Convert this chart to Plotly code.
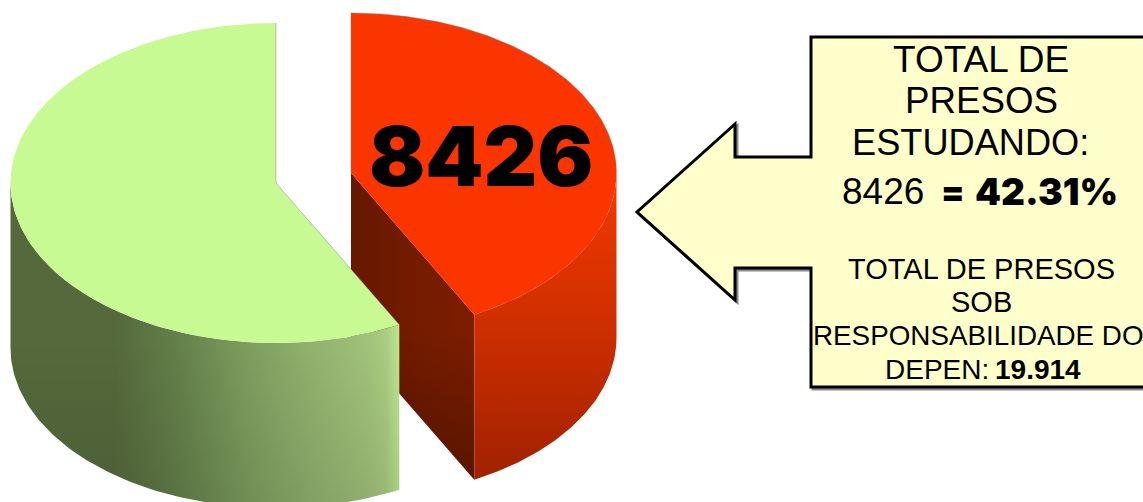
import numpy as np
import plotly.graph_objects as go

categories = ["Estudando", "Não estudando"]
values = [8426, 11488]
total = 19914
pct_label = "42.31%"

# Pie geometry (pixel frame of the page)
RX, RY, DEPTH = 265.5, 160, 165
CENTERS = [(351, 173), (276, 183)]
FONT = "Liberation Sans"
HEAVY = "Inter"
EDGE = "rgba(120,120,120,0.55)"


def ell(c, deg, dy=0):
    t = np.radians(deg)
    return c[0] + RX * np.sin(t), c[1] - RY * np.cos(t) + dy


share_angle = 360 * values[0] / sum(values)
fig = go.Figure()


def poly(x, y, color=None, grad=None):
    kw = dict(x=list(x), y=list(y), mode="lines", fill="toself", hoverinfo="skip", showlegend=False)
    if grad:
        kw["fillgradient"] = grad
        kw["fillcolor"] = "rgba(0,0,0,0)"
    else:
        kw["fillcolor"] = color
    kw["line"] = dict(width=0, color="rgba(0,0,0,0)")
    fig.add_trace(go.Scatter(**kw))


def edge(x, y):
    fig.add_trace(go.Scatter(x=list(x), y=list(y), mode="lines", hoverinfo="skip", showlegend=False,
                             line=dict(color=EDGE, width=0.8)))


def wall(c, a0, a1):
    ts = np.linspace(a0, a1, 120)
    xt, yt = ell(c, ts)
    xb, yb = ell(c, ts[::-1], DEPTH)
    return np.r_[xt, xb, xt[0]], np.r_[yt, yb, yt[0]]


def top(c, a0, a1):
    ts = np.linspace(a0, a1, 240)
    x, y = ell(c, ts)
    return np.r_[c[0], x, c[0]], np.r_[c[1], y, c[1]]


# ---- red slice
c = CENTERS[0]
ex, ey = ell(c, share_angle)
ix = [c[0], ex, ex, c[0], c[0]]
iy = [c[1], ey, ey + DEPTH, c[1] + DEPTH, c[1]]
poly(ix, iy, grad=dict(type="horizontal", start=c[0], stop=ex,
                       colorscale=[[0, "#651800"], [0.6, "#761c00"], [1, "#7c1d00"]]))
poly(ix, iy, grad=dict(type="vertical", start=330, stop=480,
                       colorscale=[[0, "rgba(0,0,0,0)"], [1, "rgba(0,0,0,0.28)"]]))
x, y = wall(c, 90, share_angle)
poly(x, y, grad=dict(type="vertical", start=190, stop=478,
                     colorscale=[[0, "#f03800"], [0.45, "#cf2f00"], [1, "#a02200"]]))
x, y = top(c, 0, share_angle)
poly(x, y, color="#fb3500")
tx, ty = ell(c, np.linspace(0, 90, 120))
edge(np.r_[c[0], tx], np.r_[c[1], ty])

# ---- green slice
c = CENTERS[1]
x, y = wall(c, share_angle, 270)
poly(x, y, grad=dict(type="horizontal", start=11, stop=ell(c, share_angle)[0],
                     colorscale=[[0, "#55693c"], [0.27, "#55693c"], [0.42, "#637e49"], [0.6, "#7c9c5d"],
                                 [0.76, "#90b06d"], [0.92, "#a0c27a"], [0.965, "#a8cc80"], [1, "#bce590"]]))
poly(x, y, grad=dict(type="vertical", start=340, stop=500,
                     colorscale=[[0, "rgba(0,0,0,0)"], [1, "rgba(0,0,0,0.10)"]]))
x, y = top(c, share_angle, 360)
poly(x, y, color="#c8fa93")
gx, gy = ell(c, share_angle)
edge([gx, c[0], c[0]], [gy, c[1], c[1] - RY])

# ---- callout
arrow = "M811,37 L1150,37 L1150,387 L811,387 L811,268 L735,268 L735,300 L637,212 L735,124 L735,157 L811,157 Z"
arrow_shadow = "M813,39 L1150,39 L1150,389 L813,389 L813,270 L737,270 L737,302 L639,214 L737,126 L737,159 L813,159 Z"
shapes = [
    dict(type="path", path=arrow_shadow, line=dict(color="#8a8a8a", width=3), fillcolor="#8a8a8a", layer="below"),
    dict(type="path", path=arrow, line=dict(color="#000000", width=3), fillcolor="#ffffcc", layer="below"),
]


def text(s, px, py, size, family=FONT, weight=None):
    font = dict(family=family, size=size, color="#000000")
    if weight:
        font["weight"] = weight
    return dict(text=s, x=px, y=py, xref="x", yref="y", showarrow=False, xanchor="center",
                yanchor="middle", font=font, align="center")


annots = [
    text("TOTAL DE", 981, 59, 37),
    text("PRESOS", 981, 100, 36.7),
    text("ESTUDANDO:", 970, 142, 36.2),
    text(f"{values[0]}", 883, 191, 37),
    text("=", 953, 191, 34, HEAVY, 900),
    text(pct_label, 1046, 191, 37, HEAVY, 900),
    text("TOTAL DE PRESOS", 981, 269, 29),
    text("SOB", 981, 302, 29),
    text("RESPONSABILIDADE DO", 978, 335, 27.8),
    text("DEPEN:", 937, 369, 28),
    text(f"{total/1000:.3f}", 1038, 369, 28, FONT, "bold"),
    text(f"{values[0]}", 481, 156, 83, HEAVY, 900),
]

fig.update_layout(
    width=1143, height=502, margin=dict(l=0, r=0, t=0, b=0),
    paper_bgcolor="white", plot_bgcolor="white", showlegend=False,
    xaxis=dict(range=[0, 1143], visible=False, fixedrange=True),
    yaxis=dict(range=[502, 0], visible=False, fixedrange=True),
    shapes=shapes, annotations=annots,
)
fig.write_html("out.html", config={"displayModeBar": False},
               post_script="document.body.style.margin='0';document.documentElement.style.overflow='hidden';")
